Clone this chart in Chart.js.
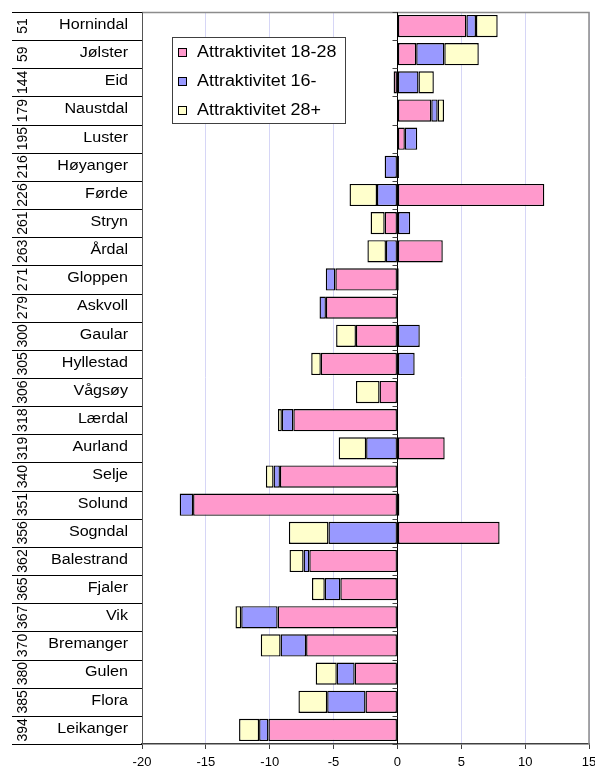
<!DOCTYPE html>
<html>
<head>
<meta charset="utf-8">
<script src="https://cdn.jsdelivr.net/npm/chart.js@4.4.1/dist/chart.umd.min.js"></script>
<style>
  html, body { margin: 0; padding: 0; background: #fff; }
  #wrap { width: 595px; height: 769px; position: relative; }
</style>
</head>
<body>
<div id="wrap"><canvas id="c"></canvas></div>
<script>
const categories = ['Hornindal','Jølster','Eid','Naustdal','Luster','Høyanger','Førde','Stryn','Årdal','Gloppen','Askvoll','Gaular','Hyllestad','Vågsøy','Lærdal','Aurland','Selje','Solund','Sogndal','Balestrand','Fjaler','Vik','Bremanger','Gulen','Flora','Leikanger'];
const codes = ['51','59','144','179','195','216','226','261','263','271','279','300','305','306','318','319','340','351','356','362','365','367','370','380','385','394'];
const seriesNames = ['Attraktivitet 18-28','Attraktivitet 16-','Attraktivitet 28+'];
const attr1828 = [5.4, 1.47, -0.3, 2.65, 0.58, 0.12, 11.5, -1.0, 3.55, -4.86, -5.6, -3.25, -6.0, -1.4, -8.15, 3.7, -9.2, -16.0, 8.0, -6.9, -4.47, -9.38, -7.15, -3.35, -2.5, -10.1];
const attr16 = [0.75, 2.2, 1.65, 0.5, 0.97, -1.0, -1.6, 1.0, -0.9, -0.75, -0.5, 1.75, 1.35, null, -0.9, -2.45, -0.5, -1.05, -5.4, -0.45, -1.22, -2.85, -2.0, -1.4, -3.0, -0.73];
const attr28 = [1.7, 2.7, 1.2, 0.5, null, null, -2.15, -1.1, -1.45, 0.1, null, -1.55, -0.75, -1.85, -0.3, -2.15, -0.6, 0.15, -3.1, -1.1, -1.0, -0.45, -1.55, -1.65, -2.25, -1.57];
const xTicks = [-20, -15, -10, -5, 0, 5, 10, 15];

const colors = ['#FF99CC', '#9999FF', '#FFFFCC'];
const FONT = '"Liberation Sans", Arial, sans-serif';

function stretchedText(ctx, text, x, y, sx) {
  ctx.save();
  ctx.translate(x, y);
  ctx.scale(sx, 1);
  ctx.fillText(text, 0, 0);
  ctx.restore();
}

const decorPlugin = {
  id: 'decor',
  afterDraw(chart) {
    const ctx = chart.ctx;
    const ca = chart.chartArea;
    const ys = chart.scales.y;
    const xs = chart.scales.x;
    const n = categories.length;
    const step = (ys.getPixelForValue(1) - ys.getPixelForValue(0));
    const bounds = [];
    for (let i = 0; i <= n; i++) bounds.push(ys.getPixelForValue(0) - step / 2 + i * step);

    ctx.save();
    ctx.strokeStyle = '#8c8c8c';
    ctx.lineWidth = 1.5;
    ctx.beginPath();
    ctx.moveTo(ca.left, ca.top + 0.5);
    ctx.lineTo(ca.right, ca.top + 0.5);
    ctx.lineTo(ca.right, ca.bottom);
    ctx.stroke();
    ctx.strokeStyle = '#555';
    ctx.lineWidth = 1;
    ctx.beginPath();
    ctx.moveTo(ca.left + 0.5, ca.top);
    ctx.lineTo(ca.left + 0.5, ca.bottom);
    ctx.stroke();

    ctx.strokeStyle = '#000';
    ctx.lineWidth = 1;
    for (let i = 0; i <= n; i++) {
      const y = Math.round(bounds[i]) + 0.5;
      ctx.beginPath();
      ctx.moveTo(12, y);
      ctx.lineTo(ca.left, y);
      ctx.stroke();
    }

    const x0 = Math.round(xs.getPixelForValue(0)) + 0.5;
    ctx.strokeStyle = '#000';
    ctx.beginPath();
    ctx.moveTo(x0, ca.top);
    ctx.lineTo(x0, ca.bottom);
    ctx.stroke();
    ctx.strokeStyle = '#444';
    for (let i = 0; i <= n; i++) {
      const y = Math.round(bounds[i]) + 0.5;
      ctx.beginPath();
      ctx.moveTo(x0 - 5, y);
      ctx.lineTo(x0, y);
      ctx.stroke();
    }

    ctx.fillStyle = '#000';
    for (let i = 0; i < n; i++) {
      const yc = ys.getPixelForValue(i);
      ctx.font = '14px ' + FONT;
      ctx.textAlign = 'right';
      ctx.textBaseline = 'middle';
      stretchedText(ctx, categories[i], 128, yc - 1, 1.15);
      ctx.save();
      ctx.translate(23, yc);
      ctx.rotate(-Math.PI / 2);
      ctx.font = '14px ' + FONT;
      ctx.textAlign = 'center';
      ctx.textBaseline = 'middle';
      ctx.fillText(codes[i], 0, 0);
      ctx.restore();
    }

    const lx = 172, ly = 37, lw = 173, lh = 86;
    ctx.fillStyle = '#fff';
    ctx.fillRect(lx, ly, lw, lh);
    ctx.strokeStyle = '#404040';
    ctx.lineWidth = 1;
    ctx.strokeRect(lx + 0.5, ly + 0.5, lw, lh);
    const rowY = [53, 82, 111];
    chart.data.datasets.forEach((ds, i) => {
      ctx.fillStyle = ds.backgroundColor;
      ctx.fillRect(178.5, rowY[i] - 4.5, 8, 8);
      ctx.strokeStyle = '#000';
      ctx.strokeRect(178.5, rowY[i] - 4.5, 8, 8);
      ctx.fillStyle = '#000';
      ctx.font = '16px ' + FONT;
      ctx.textAlign = 'left';
      ctx.textBaseline = 'middle';
      stretchedText(ctx, ds.label, 197, rowY[i], 1.12);
    });
    ctx.restore();
  }
};

new Chart(document.getElementById('c'), {
  type: 'bar',
  data: {
    labels: categories,
    datasets: [
      { label: seriesNames[0], data: attr1828, backgroundColor: colors[0] },
      { label: seriesNames[1], data: attr16, backgroundColor: colors[1] },
      { label: seriesNames[2], data: attr28, backgroundColor: colors[2] }
    ].map(d => Object.assign(d, {
      borderColor: '#000', borderWidth: 1.4, borderSkipped: false,
      barPercentage: 0.79, categoryPercentage: 1.0
    }))
  },
  options: {
    indexAxis: 'y',
    responsive: true,
    maintainAspectRatio: false,
    animation: false,
    layout: { padding: { left: 0, right: 0, top: 12, bottom: 0 } },
    plugins: { legend: { display: false }, tooltip: { enabled: false } },
    scales: {
      x: {
        stacked: true,
        min: -20, max: 15,
        afterBuildTicks(scale) { scale.ticks = xTicks.map(v => ({ value: v })); },
        afterFit(scale) { scale.height = 25; scale.paddingRight = 6; },
        ticks: { color: '#000', font: { family: FONT, size: 13 }, padding: 6, maxRotation: 0, autoSkip: false },
        grid: { color: '#d6d6f6', lineWidth: 1, tickColor: '#404040', tickLength: 5, drawTicks: true },
        border: { display: true, color: '#404040', width: 1.5 }
      },
      y: {
        stacked: true,
        ticks: { display: false },
        grid: { display: false, drawTicks: false },
        border: { display: false },
        afterFit(scale) { scale.width = 142; }
      }
    }
  },
  plugins: [decorPlugin]
});
</script>
</body>
</html>
